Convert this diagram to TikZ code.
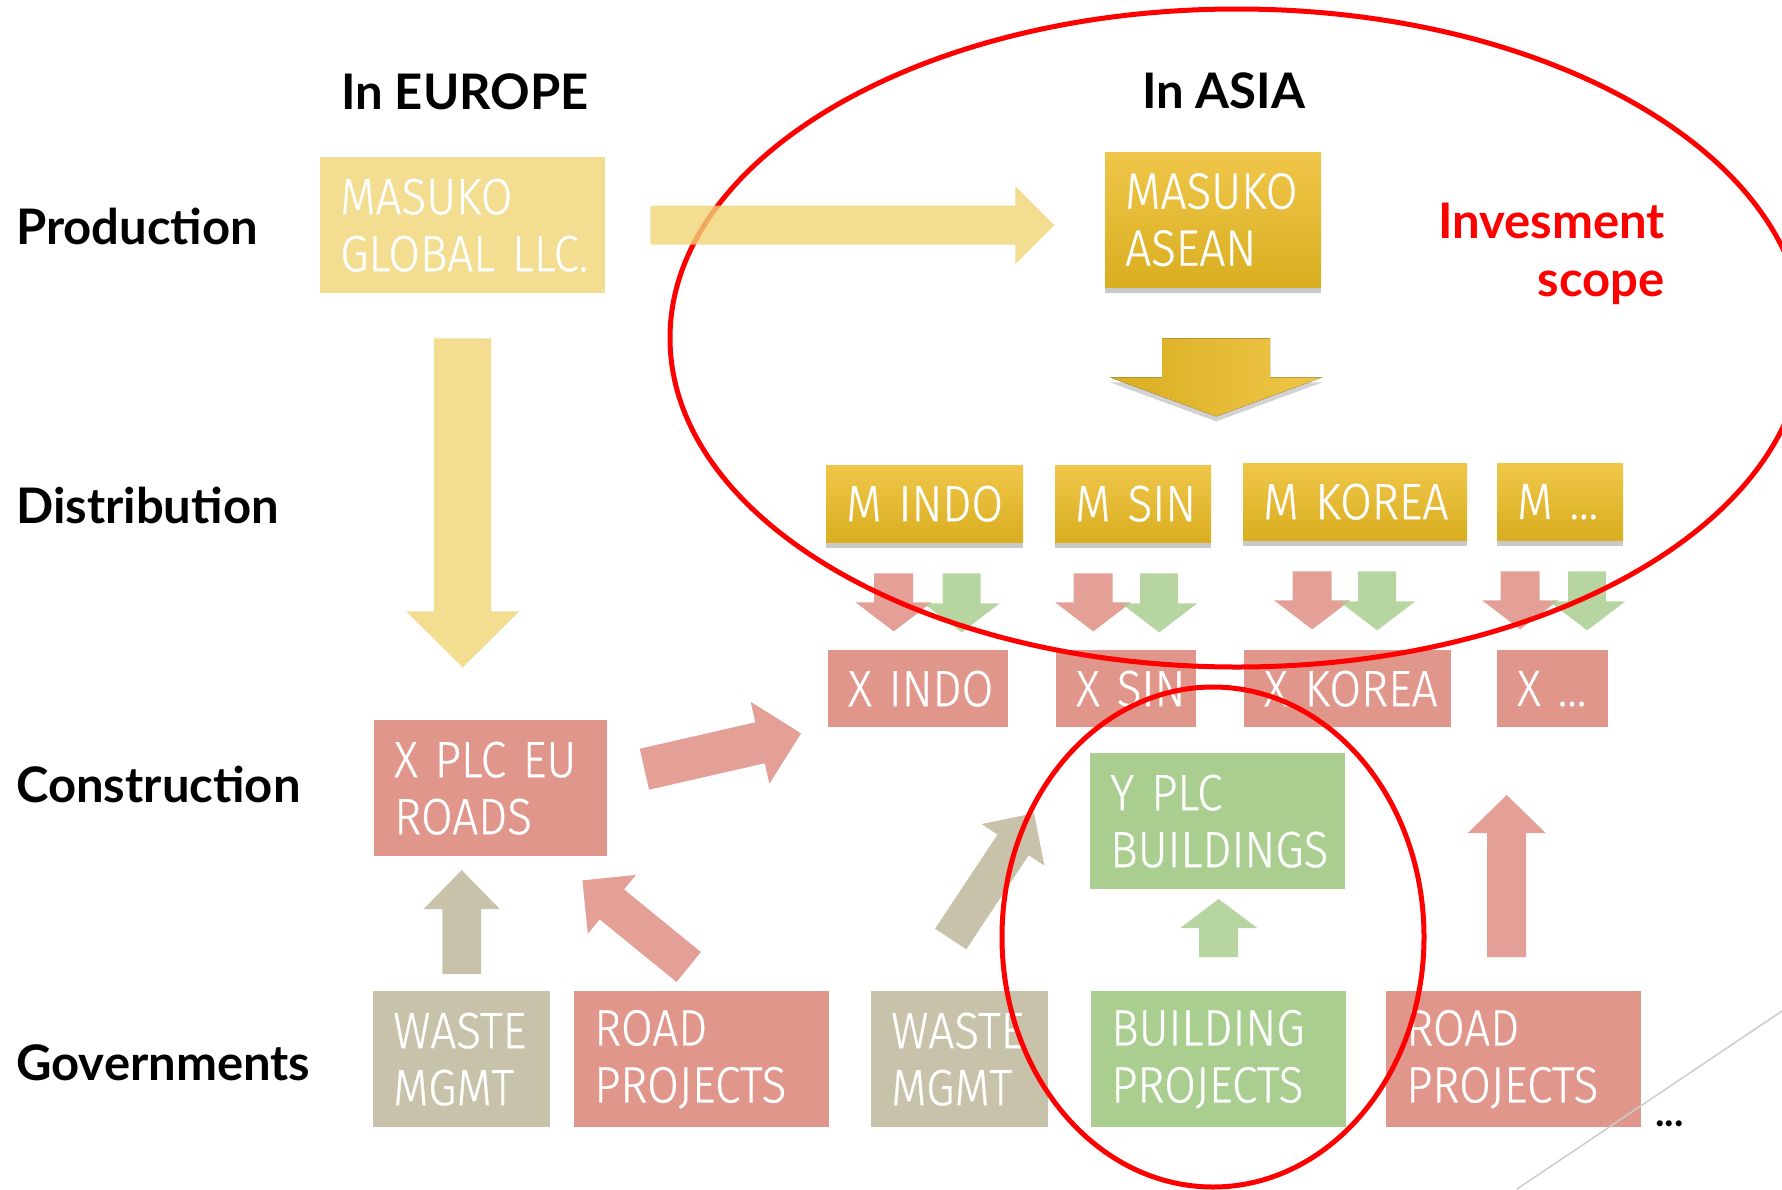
\documentclass[tikz,border=0pt]{standalone}
\usepackage{fontspec}
\setmainfont{Lato}
\newfontfamily\boxfont{Fira Sans Light}[FakeStretch = 0.9, WordSpace = 0.8, FakeBold = 0.6]
\usetikzlibrary{calc}
\usetikzlibrary{shadows}

\definecolor{pale}{HTML}{F2DD91}
\definecolor{paleshaft}{HTML}{EFD476}
\definecolor{goldtop}{HTML}{F0C64A}
\definecolor{goldbot}{HTML}{D9AE20}
\definecolor{rosy}{HTML}{E1968C}
\definecolor{sage}{HTML}{A9CE8F}
\definecolor{khaki}{HTML}{C9C2AA}
\definecolor{scopered}{HTML}{FF0000}

% block arrow from a tail point to a tip point:
% #1 style, #2 tail, #3 tip, #4 half shaft, #5 half head, #6 head length
\newcommand{\fatarrow}[6]{%
  \fill[#1] ($#2!#4!90:#3$)
    -- ($#3!#6!#2!#4!-90:#2$)
    -- ($#3!#6!#2!#5!-90:#2$)
    -- #3
    -- ($#3!#6!#2!#5!90:#2$)
    -- ($#3!#6!#2!#4!90:#2$)
    -- ($#2!#4!-90:#3$) -- cycle;
}

\tikzset {
  % row and column titles
  title/.style = {
    anchor = base west,
    inner sep = 0pt,
    font = \fontsize{49}{58}\selectfont\bfseries
  },
  % coloured block with white text, width and height in px
  block/.style 2 args = {
    anchor = north west,
    text width = #1pt-40pt,
    minimum height = #2pt,
    inner xsep = 20pt,
    inner ysep = 0pt,
    align = left,
    text = white,
    execute at begin node = {\hyphenpenalty=10000\relax},
    font = \boxfont\fontsize{51}{57}\selectfont
  },
  pale block/.style = {fill = pale},
  gold block/.style = {
    top color = goldtop,
    bottom color = goldbot,
    drop shadow = {shadow xshift = 0pt, shadow yshift = -6pt,
      opacity = .3, fill = black!70}
  },
  rosy block/.style = {fill = rosy},
  sage block/.style = {fill = sage},
  khaki block/.style = {fill = khaki}
}
\tikzset {
  pale arrow/.style = {fill = paleshaft, fill opacity = .8},
  gold arrow/.style = {
    left color = goldbot,
    right color = goldtop,
    drop shadow = {shadow xshift = 0pt, shadow yshift = -5pt,
      opacity = .25, fill = black!70}
  },
  rosy arrow/.style = {fill = rosy, fill opacity = .9},
  sage arrow/.style = {fill = sage, fill opacity = .85},
  khaki arrow/.style = {fill = khaki},
  % hand drawn scope rings
  scope ring/.style = {draw = scopered, line width = 5pt}
}

\begin{document}
\begin{tikzpicture}[x = 1pt, y = -1pt]
  \useasboundingbox (0,0) rectangle (1782,1189);

  % titles
  \node[title] (europe) at (341,109) {In EUROPE};
  \node[title] (asia) at (1142,108) {In ASIA};
  \node[title] (prod) at (16,244) {Production};
  \node[title] (dist) at (16,523) {Distribution};
  \node[title] (cons) at (16,802) {Construction};
  \node[title] (gov) at (16,1080) {Governments};
  \node[title, anchor = north east, align = right, text = scopered]
    (invest) at (1665,203) {Invesment\\scope};

  % production
  \node[block = {285}{136}, pale block] (glob) at (320,157) {MASUKO\\GLOBAL~LLC.};
  \node[block = {216}{135}, gold block] (asean) at (1105,152) {MASUKO\\ASEAN};

  % distribution
  \node[block = {197}{77}, gold block] (mindo) at (826,465) {M~INDO};
  \node[block = {156}{77}, gold block] (msin) at (1055,465) {M~SIN};
  \node[block = {224}{77}, gold block] (mkorea) at (1243,463) {M~KOREA};
  \node[block = {126}{77}, gold block] (mdots) at (1497,463) {M~...};

  % construction
  \node[block = {180}{77}, rosy block] (xindo) at (828,650) {X~INDO};
  \node[block = {140}{77}, rosy block] (xsin) at (1056,650) {X~SIN};
  \node[block = {207}{77}, rosy block] (xkorea) at (1244,650) {X~KOREA};
  \node[block = {111}{77}, rosy block] (xdots) at (1497,650) {X~...};
  \node[block = {233}{136}, rosy block] (xplc) at (374,720) {X~PLC~EU\\ROADS};
  \node[block = {255}{136}, sage block] (yplc) at (1090,753) {Y~PLC\\BUILDINGS};

  % governments
  \node[block = {177}{136}, khaki block] (waste1) at (373,991) {WASTE\\MGMT};
  \node[block = {255}{136}, rosy block] (road1) at (574,991) {ROAD\\PROJECTS};
  \node[block = {177}{136}, khaki block] (waste2) at (871,991) {WASTE\\MGMT};
  \node[block = {255}{136}, sage block] (build) at (1091,991) {BUILDING\\PROJECTS};
  \node[block = {255}{136}, rosy block] (road2) at (1386,991) {ROAD\\PROJECTS};
  \node[title, font = \fontsize{40}{48}\selectfont\bfseries]
    (more) at (1655,1126) {...};

  % arrow ends
  \coordinate (gtail) at ($(glob.east)+(45,0)$);
  \coordinate (gtip) at ($(glob.east)+(449,0)$);
  \coordinate (dtail) at ($(glob.south)+(0,45)$);
  \coordinate (dtip) at ($(glob.south)+(0,374)$);
  \coordinate (atail) at ($(asean.south)+(3,51)$);
  \coordinate (atip) at ($(asean.south)+(3,129)$);
  \coordinate (etail) at ($(xplc.east)+(37,-19)$);
  \coordinate (etip) at ($(xindo.south west)+(-27,6)$);
  \coordinate (w1tail) at ($(waste1.north)+(0,-17)$);
  \coordinate (w1tip) at ($(waste1.north)+(0,-121)$);
  \coordinate (r1tail) at ($(road1.north)+(-13,-24)$);
  \coordinate (r1tip) at ($(xplc.south east)+(-25,24)$);
  \coordinate (w2tail) at ($(waste2.north)+(-9,-52)$);
  \coordinate (w2tip) at ($(yplc.west)+(-56,-8)$);
  \coordinate (btail) at ($(build.north)+(0,-34)$);
  \coordinate (btip) at ($(build.north)+(0,-92)$);
  \coordinate (r2tail) at ($(road2.north)+(-7,-34)$);
  \coordinate (r2tip) at ($(road2.north)+(-7,-196)$);

  \fatarrow{pale arrow}{(dtail)}{(dtip)}{28.5pt}{56.5pt}{56pt}
  \fatarrow{gold arrow}{(atail)}{(atip)}{54pt}{106pt}{39pt}

  % two arrows below every M block
  \foreach \m/\r/\g in {mindo/-31/37, msin/-40/26, mkorea/-43/22, mdots/-40/27} {
    \coordinate (\m-rt) at ($(\m.south)+(\r,31)$);
    \coordinate (\m-rh) at ($(\m.south)+(\r,89)$);
    \coordinate (\m-gt) at ($(\m.south)+(\g,31)$);
    \coordinate (\m-gh) at ($(\m.south)+(\g,90)$);
    \fatarrow{rosy arrow}{(\m-rt)}{(\m-rh)}{19.5pt}{38pt}{29pt}
    \fatarrow{sage arrow}{(\m-gt)}{(\m-gh)}{19pt}{38pt}{29pt}
  }

  \fatarrow{rosy arrow}{(etail)}{(etip)}{21pt}{42pt}{42pt}
  \fatarrow{khaki arrow}{(w1tail)}{(w1tip)}{19.3pt}{38pt}{39pt}
  \fatarrow{rosy arrow}{(r1tail)}{(r1tip)}{19.3pt}{38pt}{38pt}
  \fatarrow{khaki arrow}{(w2tail)}{(w2tip)}{18.7pt}{37.7pt}{38pt}
  \fatarrow{sage arrow}{(btail)}{(btip)}{19.5pt}{38.5pt}{29pt}
  \fatarrow{rosy arrow}{(r2tail)}{(r2tip)}{19.5pt}{39pt}{38pt}

  % slide decoration
  \draw[black!20, line width = 1.5pt] (1782,1011) -- (1517,1189);

  % scope rings
  \draw[scope ring] (1237,338) ellipse [x radius = 567pt, y radius = 329pt];
  \draw[scope ring] (1213,937) ellipse [x radius = 211pt, y radius = 250pt];

  % the long arrow lies over the ring
  \fatarrow{pale arrow}{(gtail)}{(gtip)}{19.5pt}{39pt}{39pt}
\end{tikzpicture}
\end{document}
